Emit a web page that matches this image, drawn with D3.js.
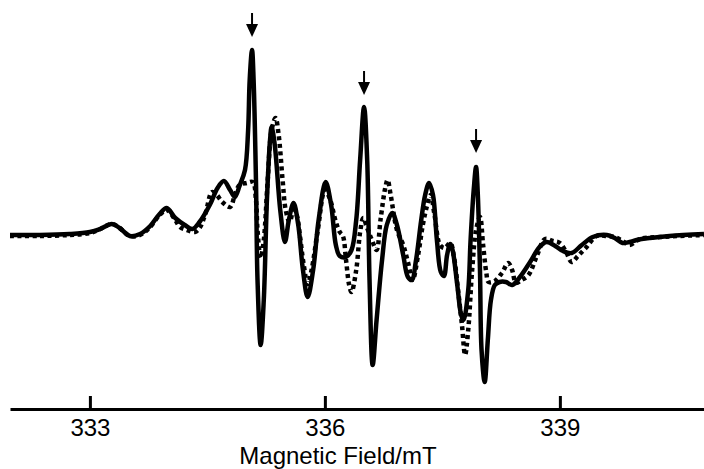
<!DOCTYPE html>
<html>
<head>
<meta charset="utf-8">
<script src="https://cdn.jsdelivr.net/npm/d3@7"></script>
<style>
  html, body { margin: 0; padding: 0; background: #fff; }
  #chart { width: 704px; height: 469px; }
  .x.axis text { font-family: "Liberation Sans", Arial, sans-serif; font-size: 24px; fill: #000; }
</style>
</head>
<body>
<div id="chart"></div>
<script>
// magnetic field (mT) and signal (a.u.) for the solid trace
const solidField = [331.98, 332.36, 332.74, 333.00, 333.13, 333.28, 333.38, 333.51, 333.64, 333.77,
    333.89, 333.98, 334.09, 334.21, 334.31, 334.40, 334.53, 334.63, 334.71, 334.79,
    334.85, 334.91, 334.98, 335.02, 335.04, 335.07, 335.09, 335.12, 335.14, 335.18,
    335.22, 335.26, 335.30, 335.32, 335.36, 335.43, 335.49, 335.54, 335.60, 335.66,
    335.72, 335.78, 335.85, 335.92, 336.01, 336.08, 336.14, 336.19, 336.27, 336.34,
    336.40, 336.45, 336.50, 336.54, 336.57, 336.61, 336.66, 336.73, 336.79, 336.86,
    336.92, 337.00, 337.06, 337.11, 337.16, 337.23, 337.28, 337.33, 337.38, 337.43,
    337.48, 337.52, 337.56, 337.60, 337.63, 337.69, 337.74, 337.77, 337.83, 337.86,
    337.90, 337.93, 337.95, 337.98, 338.00, 338.04, 338.08, 338.12, 338.17, 338.23,
    338.31, 338.39, 338.49, 338.62, 338.74, 338.83, 338.94, 339.04, 339.15, 339.28,
    339.42, 339.60, 339.70, 339.80, 339.89, 339.98, 340.15, 340.40, 340.84];
const solidSignal = [1, 1, 2, 4, 7, 12, 8, 0, 2, 10,
    22, 28, 18, 11, 7, 14, 31, 48, 55, 46,
    39, 50, 66, 106, 156, 186, 156, 56, -44, -109,
    -64, 36, 96, 109, 91, 26, -6, 16, 33, 11,
    -34, -61, -34, 16, 54, 31, -9, -20, -21, -14,
    16, 76, 129, 76, -44, -129, -84, -24, 11, 23,
    11, -19, -41, -44, -26, 16, 41, 53, 41, -4,
    -36, -40, -19, -8, -14, -49, -79, -84, -54, -4,
    46, 69, 46, -34, -114, -146, -104, -64, -49, -46,
    -46, -49, -41, -26, -11, -6, -10, -15, -17, -9,
    -1, 1, -2, -7, -6, -4, -2, 0, 2];

// dotted trace
const dottedField = [331.98, 332.36, 332.74, 333.00, 333.13, 333.28, 333.38, 333.51, 333.64, 333.77,
    333.89, 333.98, 334.09, 334.15, 334.24, 334.34, 334.40, 334.47, 334.56, 334.62,
    334.69, 334.79, 334.85, 334.91, 335.00, 335.08, 335.12, 335.14, 335.18, 335.22,
    335.27, 335.32, 335.37, 335.41, 335.46, 335.50, 335.55, 335.60, 335.64, 335.68,
    335.73, 335.78, 335.83, 335.91, 336.00, 336.06, 336.14, 336.19, 336.23, 336.27,
    336.31, 336.34, 336.40, 336.45, 336.49, 336.54, 336.60, 336.66, 336.71, 336.77,
    336.80, 336.84, 336.92, 337.00, 337.06, 337.12, 337.19, 337.25, 337.30, 337.35,
    337.40, 337.47, 337.53, 337.60, 337.65, 337.70, 337.75, 337.79, 337.83, 337.88,
    337.93, 337.98, 338.02, 338.06, 338.09, 338.17, 338.26, 338.34, 338.39, 338.44,
    338.51, 338.60, 338.71, 338.81, 338.91, 339.00, 339.08, 339.15, 339.23, 339.33,
    339.47, 339.60, 339.70, 339.80, 339.89, 340.02, 340.28, 340.84];
const dottedSignal = [0, 0, 1, 3, 7, 12, 8, 0, 1, 9,
    21, 26, 16, 9, 6, 4, 8, 21, 44, 41,
    34, 29, 41, 51, 53, 54, 36, 6, -22, -4,
    56, 106, 118, 101, 56, 26, 14, 26, 21, 1,
    -29, -48, -34, 6, 46, 38, 14, 4, 0, -24,
    -49, -56, -34, 4, 18, 8, -4, -14, 16, 48,
    56, 41, 6, -9, -26, -44, -19, 11, 29, 41,
    21, -9, -12, -7, -22, -54, -89, -119, -94, -34,
    6, 19, -9, -36, -46, -45, -37, -27, -34, -47,
    -44, -39, -19, -3, -5, -7, -16, -26, -20, -12,
    0, 0, -1, -5, -9, -3, -1, 1];

// marked lines: field position and arrow tip height
const arrowField = [335.07, 336.50, 337.93];
const arrowTip = [199, 141, 83];

const tickValues = [333, 336, 339];
const xLabel = 'Magnetic Field/mT';

const chartDiv = document.getElementById('chart');
const width = 704, height = 469;

const svg = d3.select(chartDiv).append('svg')
    .attr('width', width)
    .attr('height', height)
    .attr('viewBox', [0, 0, width, height]);

const x = d3.scaleLinear()
    .domain([331.98, 340.84])
    .range([10, 704]);
const y = d3.scaleLinear()
    .domain([-150, 200])
    .range([386, 36]);

const line = d3.line()
    .x(d => x(d[0]))
    .y(d => y(d[1]))
    .curve(d3.curveCatmullRom.alpha(0.5));

const dotted = dottedField.map((f, i) => [f, dottedSignal[i]]);
const solid = solidField.map((f, i) => [f, solidSignal[i]]);

svg.append('path')
    .datum(dotted)
    .attr('d', line)
    .attr('fill', 'none')
    .attr('stroke', '#000')
    .attr('stroke-width', 4.5)
    .attr('stroke-dasharray', '4,3.5');

svg.append('path')
    .datum(solid)
    .attr('d', line)
    .attr('fill', 'none')
    .attr('stroke', '#000')
    .attr('stroke-width', 4.5)
    .attr('stroke-linejoin', 'round');

// arrows over the marked peaks
const arrows = svg.append('g').attr('class', 'arrows');
arrowField.forEach((f, i) => {
    const ax = x(f), ay = y(arrowTip[i]);
    arrows.append('line')
        .attr('x1', ax).attr('x2', ax)
        .attr('y1', ay - 24).attr('y2', ay - 8)
        .attr('stroke', '#000')
        .attr('stroke-width', 2);
    arrows.append('path')
        .attr('d', `M${ax - 6},${ay - 13}L${ax + 6},${ay - 13}L${ax},${ay}Z`)
        .attr('fill', '#000');
});

const xAxis = svg.append('g')
    .attr('class', 'x axis')
    .attr('transform', 'translate(0,409)')
    .call(d3.axisBottom(x)
        .tickValues(tickValues)
        .tickFormat(d3.format('d'))
        .tickSizeInner(-13)
        .tickSizeOuter(0)
        .tickPadding(10));
xAxis.select('.domain').attr('stroke-width', 3);
xAxis.selectAll('.tick line').attr('stroke-width', 3);

svg.append('text')
    .attr('x', 338)
    .attr('y', 464)
    .attr('text-anchor', 'middle')
    .style('font-family', '"Liberation Sans", Arial, sans-serif')
    .style('font-size', '24px')
    .text(xLabel);
</script>
</body>
</html>
